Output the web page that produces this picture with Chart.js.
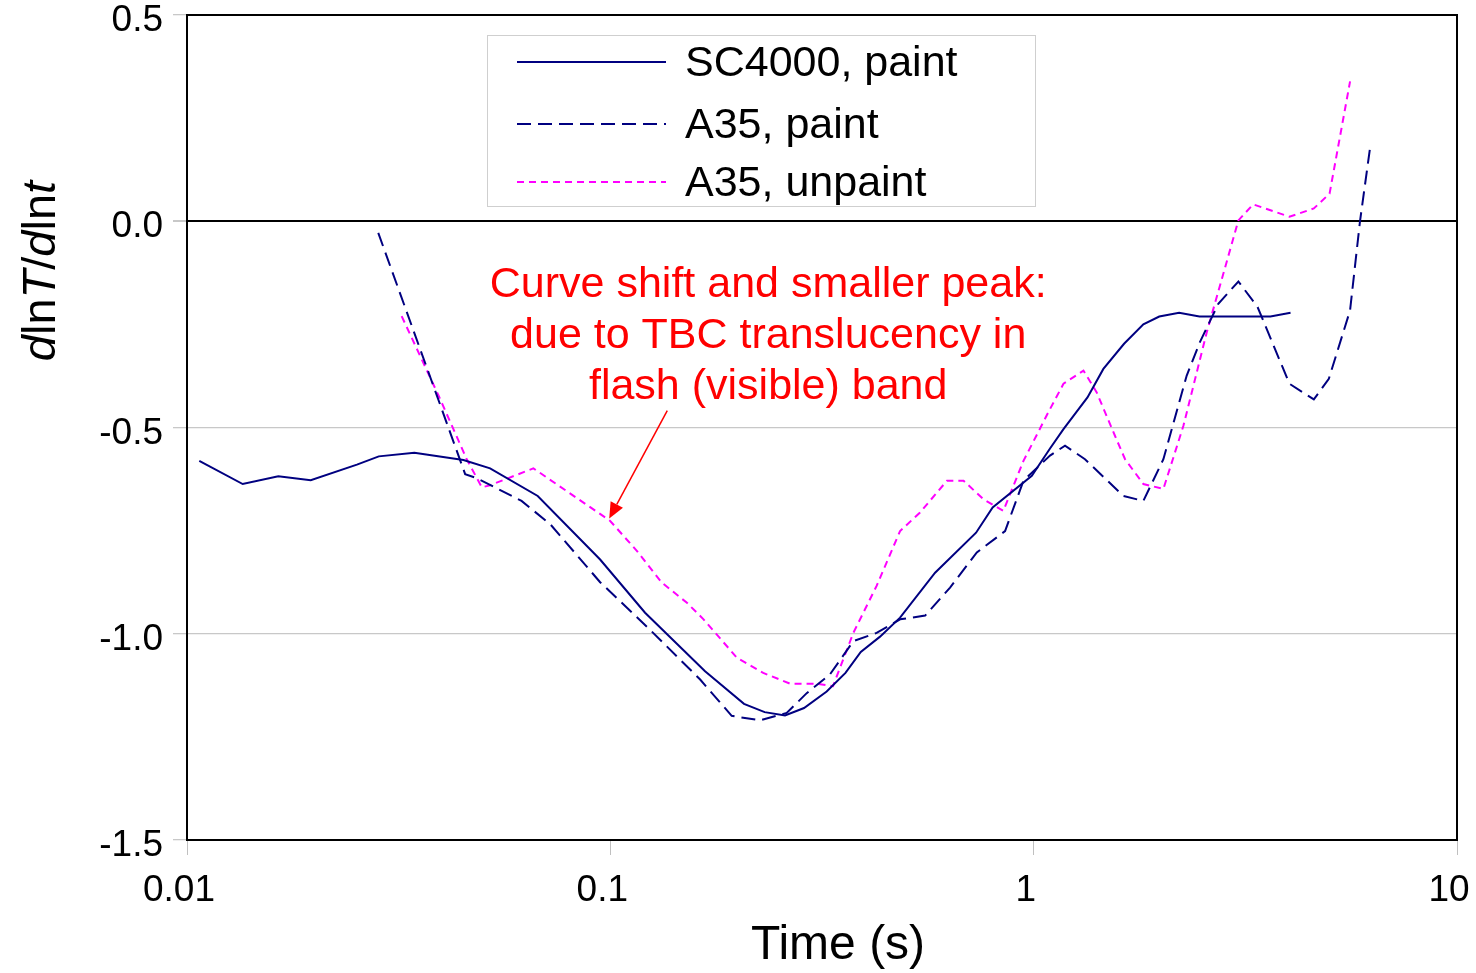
<!DOCTYPE html>
<html><head><meta charset="utf-8">
<script src="https://cdn.jsdelivr.net/npm/chart.js@4.4.0/dist/chart.umd.min.js"></script>
<style>html,body{margin:0;padding:0;background:#fff;}#wrap{width:1476px;height:973px;}</style>
</head><body><div id="wrap"><canvas id="c" width="1476" height="973"></canvas></div>
<script>
// ---- data ----
const seriesLabels = ['SC4000, paint', 'A35, paint', 'A35, unpaint'];

const sc4000Time  = [0.01069,0.01354,0.01643,0.0196,0.0252,0.02838,0.03444,0.04498,0.052,0.06737,0.0946,0.1208,0.1674,0.2069,0.2315,0.2586,0.2868,0.3244,0.3593,0.3905,0.4336,0.4835,0.585,0.731,0.80,0.99,1.093,1.176,1.34,1.461,1.635,1.816,1.98,2.206,2.464,3.625,4.044];
const sc4000Value = [-0.581,-0.637,-0.618,-0.628,-0.590,-0.570,-0.561,-0.579,-0.599,-0.666,-0.820,-0.949,-1.091,-1.170,-1.190,-1.198,-1.180,-1.140,-1.095,-1.044,-1.007,-0.961,-0.852,-0.755,-0.694,-0.617,-0.551,-0.504,-0.427,-0.358,-0.297,-0.250,-0.231,-0.222,-0.231,-0.231,-0.222];

const a35PaintTime  = [0.0283,0.0454,0.0484,0.0617,0.0722,0.0946,0.124,0.163,0.1935,0.2258,0.261,0.291,0.330,0.375,0.4256,0.4835,0.554,0.6346,0.734,0.856,0.946,1.093,1.186,1.322,1.629,1.816,2.025,2.299,2.47,2.73,3.045,3.38,4.02,4.59,4.98,5.59,5.90,6.23];
const a35PaintValue = [-0.028,-0.613,-0.623,-0.678,-0.735,-0.875,-0.990,-1.111,-1.199,-1.210,-1.192,-1.144,-1.099,-1.018,-0.998,-0.965,-0.956,-0.888,-0.803,-0.751,-0.629,-0.568,-0.544,-0.577,-0.666,-0.678,-0.577,-0.374,-0.293,-0.200,-0.146,-0.208,-0.394,-0.432,-0.382,-0.216,0.0,0.177];

const a35UnpaintTime  = [0.03214,0.0393,0.0458,0.0497,0.052,0.0658,0.0998,0.1155,0.1323,0.1517,0.166,0.199,0.2297,0.2657,0.307,0.3357,0.375,0.4256,0.4835,0.539,0.624,0.683,0.761,0.848,0.946,1.083,1.176,1.311,1.409,1.556,1.644,1.816,2.025,2.258,2.564,3.045,3.30,4.02,4.59,5.0,5.59];
const a35UnpaintValue = [-0.230,-0.423,-0.577,-0.645,-0.640,-0.599,-0.726,-0.799,-0.876,-0.925,-0.965,-1.058,-1.095,-1.121,-1.121,-1.127,-0.998,-0.884,-0.751,-0.706,-0.629,-0.629,-0.674,-0.702,-0.581,-0.463,-0.394,-0.362,-0.415,-0.520,-0.577,-0.637,-0.649,-0.496,-0.269,0.002,0.041,0.011,0.031,0.067,0.339];

const xTickValues = [0.01, 0.1, 1, 10];
const xTickLabels = ['0.01', '0.1', '1', '10'];
const yTickValues = [-1.5, -1.0, -0.5, 0.0, 0.5];
const yTickLabels = ['-1.5', '-1.0', '-0.5', '0.0', '0.5'];

const annotationLines = ['Curve shift and smaller peak:', 'due to TBC translucency in', 'flash (visible) band'];
const annotationX = 0.236;
const annotationBaselineY = [-0.184, -0.308, -0.432];
const arrowFrom = [0.1363, -0.459];
const arrowTo = [0.0994, -0.7207];

const xTitle = 'Time (s)';
const yTitleParts = [['d', true], ['ln', false], ['T', true], ['/', false], ['d', true], ['ln', false], ['t', true]];

// ---- chart ----
const FONT = "'Liberation Sans', Arial, Helvetica, sans-serif";
const NAVY = '#000080';
const MAGENTA = '#FF00FF';

function pts(xs, ys) { return xs.map((x, i) => ({ x: x, y: ys[i] })); }

const frame = {
  id: 'frame',
  afterDraw(chart) {
    const { ctx, chartArea: a, scales } = chart;
    ctx.save();
    // plot border
    ctx.strokeStyle = '#000';
    ctx.lineWidth = 2;
    ctx.strokeRect(a.left, a.top, a.right - a.left, a.bottom - a.top);

    // legend box
    const lx = 487, ly = 35, lw = 548, lh = 171;
    ctx.fillStyle = '#fff';
    ctx.fillRect(lx, ly, lw, lh);
    ctx.strokeStyle = '#cfcfcf';
    ctx.lineWidth = 1;
    ctx.strokeRect(lx + 0.5, ly + 0.5, lw, lh);
    const rows = [62, 124, 182];
    chart.data.datasets.forEach((ds, i) => {
      ctx.beginPath();
      ctx.strokeStyle = ds.borderColor;
      ctx.lineWidth = ds.borderWidth;
      ctx.setLineDash(ds.borderDash || []);
      ctx.moveTo(517, rows[i]);
      ctx.lineTo(666, rows[i]);
      ctx.stroke();
      ctx.setLineDash([]);
      ctx.fillStyle = '#000';
      ctx.font = '43px ' + FONT;
      ctx.textBaseline = 'middle';
      ctx.textAlign = 'left';
      ctx.fillText(ds.label, 685, rows[i] + 2);
    });

    // annotation
    const xs = scales.x, ys = scales.y;
    ctx.fillStyle = '#FF0000';
    ctx.font = '43px ' + FONT;
    ctx.textAlign = 'center';
    ctx.textBaseline = 'alphabetic';
    const cx = xs.getPixelForValue(annotationX);
    annotationLines.forEach((t, i) => ctx.fillText(t, cx, ys.getPixelForValue(annotationBaselineY[i])));
    const x0 = xs.getPixelForValue(arrowFrom[0]), y0 = ys.getPixelForValue(arrowFrom[1]);
    const x1 = xs.getPixelForValue(arrowTo[0]), y1 = ys.getPixelForValue(arrowTo[1]);
    const ang = Math.atan2(y1 - y0, x1 - x0);
    const headL = 16, headW = 7;
    const bx = x1 - headL * Math.cos(ang), by = y1 - headL * Math.sin(ang);
    ctx.strokeStyle = '#FF0000';
    ctx.lineWidth = 1.5;
    ctx.beginPath(); ctx.moveTo(x0, y0); ctx.lineTo(bx, by); ctx.stroke();
    ctx.beginPath();
    ctx.moveTo(x1, y1);
    ctx.lineTo(bx + headW * Math.sin(ang), by - headW * Math.cos(ang));
    ctx.lineTo(bx - headW * Math.sin(ang), by + headW * Math.cos(ang));
    ctx.closePath(); ctx.fill();

    // x axis title
    ctx.fillStyle = '#000';
    ctx.font = '48px ' + FONT;
    ctx.textAlign = 'center';
    ctx.textBaseline = 'middle';
    ctx.fillText(xTitle, 838, 946);

    // y axis title with mixed italics
    ctx.translate(42, 271);
    ctx.rotate(-Math.PI / 2);
    ctx.textBaseline = 'middle';
    ctx.textAlign = 'left';
    let total = 0;
    const widths = yTitleParts.map(([t, it]) => {
      ctx.font = (it ? 'italic ' : '') + '47px ' + FONT;
      const w = ctx.measureText(t).width; total += w; return w;
    });
    let px = -total / 2;
    yTitleParts.forEach(([t, it], i) => {
      ctx.font = (it ? 'italic ' : '') + '47px ' + FONT;
      ctx.fillText(t, px, 0);
      px += widths[i];
    });
    ctx.restore();
  }
};

new Chart(document.getElementById('c'), {
  type: 'scatter',
  data: {
    datasets: [
      { label: seriesLabels[0], data: pts(sc4000Time, sc4000Value), showLine: true, borderColor: NAVY, backgroundColor: NAVY, borderWidth: 2, pointRadius: 0, tension: 0 },
      { label: seriesLabels[1], data: pts(a35PaintTime, a35PaintValue), showLine: true, borderColor: NAVY, backgroundColor: NAVY, borderWidth: 2, borderDash: [14, 7], pointRadius: 0, tension: 0 },
      { label: seriesLabels[2], data: pts(a35UnpaintTime, a35UnpaintValue), showLine: true, borderColor: MAGENTA, backgroundColor: MAGENTA, borderWidth: 2, borderDash: [7, 5], pointRadius: 0, tension: 0 }
    ]
  },
  options: {
    responsive: false,
    animation: false,
    devicePixelRatio: 1,
    layout: { padding: { top: 15, right: 19, bottom: 0, left: 0 } },
    plugins: { legend: { display: false }, tooltip: { enabled: false } },
    scales: {
      x: {
        type: 'logarithmic',
        min: 0.01, max: 10,
        afterBuildTicks(s) { s.ticks = xTickValues.map(v => ({ value: v })); },
        afterFit(s) { s.height = 133; s.paddingLeft = 0; s.paddingRight = 0; },
        ticks: {
          autoSkip: false, maxRotation: 0, minRotation: 0,
          color: '#000', font: { family: FONT, size: 37 }, padding: 14, labelOffset: -8,
          callback: (v, i) => xTickLabels[i]
        },
        grid: { display: true, drawOnChartArea: false, drawTicks: true, tickLength: 15, tickColor: '#c0c0c0' },
        border: { display: true, color: '#000', width: 2 },
        title: { display: false }
      },
      y: {
        type: 'linear',
        min: -1.5, max: 0.5,
        afterBuildTicks(s) { s.ticks = yTickValues.map(v => ({ value: v })); },
        afterFit(s) { s.width = 187; s.paddingTop = 0; s.paddingBottom = 0; },
        ticks: {
          autoSkip: false, color: '#000', font: { family: FONT, size: 37 }, padding: 10, labelOffset: 6,
          callback: (v, i) => yTickLabels[i]
        },
        grid: {
          color: c => (c.tick && c.tick.value === 0 ? '#000' : '#c8c8c8'),
          lineWidth: c => (c.tick && c.tick.value === 0 ? 2 : 1.3),
          drawTicks: true, tickLength: 14, tickColor: '#c8c8c8'
        },
        border: { display: true, color: '#000', width: 2 },
        title: { display: false }
      }
    }
  },
  plugins: [frame]
});
</script>
</body></html>
